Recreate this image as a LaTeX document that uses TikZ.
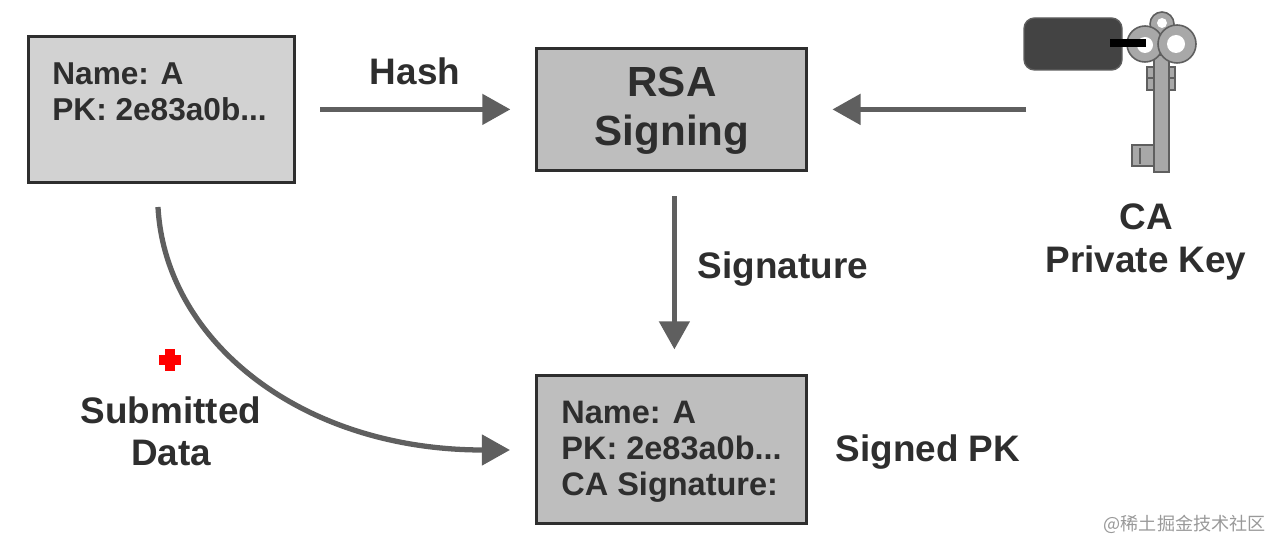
\documentclass[tikz,border=0pt]{standalone}
\usepackage{fontspec}
\setmainfont{Liberation Sans}
\newfontfamily\cjkfont{Noto Sans CJK SC}
\usepackage{xcolor}
\usetikzlibrary{arrows.meta}
\definecolor{boxlight}{HTML}{D2D2D2}
\definecolor{boxdark}{HTML}{BEBEBE}
\definecolor{flowgray}{HTML}{5F5F5F}
\definecolor{inkgray}{HTML}{2E2E2E}
\definecolor{keygray}{HTML}{A8A8A8}

\begin{document}
\begin{tikzpicture}[
    x=0.02cm,
    y=-0.02cm,
    box/.style={
        draw=inkgray,
        line width=1.6pt,
        inner sep=0pt,
        anchor=north west
    },
    flow/.style={
        draw=flowgray,
        line width=3pt,
        -{Triangle[length=16pt,width=17pt]}
    },
    gap/.style={
        shorten >=14pt,
        shorten <=14pt
    },
    label/.style={
        font=\bfseries\fontsize{21}{24}\selectfont,
        text=inkgray,
        align=center
    },
    entry/.style={
        font=\bfseries\fontsize{18}{20.5}\selectfont,
        text=inkgray,
        align=left,
        anchor=north west,
        inner sep=0pt
    },
    keypart/.style={
        fill=keygray,
        draw=flowgray,
        line width=0.9pt
    }
]
\useasboundingbox (0,0) rectangle (1271,540);

% boxes
\node[box, fill=boxlight, minimum width=266*0.02cm, minimum height=146*0.02cm] (request) at (27,35) {};
\node[box, fill=boxdark, minimum width=270*0.02cm, minimum height=122*0.02cm] (rsa) at (535,47) {};
\node[box, fill=boxdark, minimum width=270*0.02cm, minimum height=148*0.02cm] (signed) at (535,374) {};

\node[font=\bfseries\fontsize{24}{28}\selectfont, text=inkgray, align=center] (rsatext) at (672,111) {RSA\\Signing};
\node[entry] (requesttext) at (52,62) {Name: A\\PK: 2e83a0b...};
\node[entry, font=\bfseries\fontsize{18.5}{20.5}\selectfont] (signedtext) at (561,401) {Name: A\\PK: 2e83a0b...\\CA Signature:};

% key
\draw[keypart] (1132,145) rectangle (1158,166);
\draw[flowgray, line width=0.9pt] (1140,148) -- (1140,164);
\draw[keypart] (1147,67) rectangle (1175,90);
\draw[flowgray, line width=0.9pt] (1147,78) -- (1175,78);
\draw[keypart] (1154,55) rectangle (1169,172);
\draw[keypart] (1162,24) circle (12*0.02cm);
\draw[keypart] (1145,44) circle (18*0.02cm);
\draw[keypart] (1177,44) circle (19*0.02cm);
\fill[white] (1162,23) circle (5*0.02cm);
\fill[white] (1145,45) circle (8*0.02cm);
\fill[white] (1176,44) circle (9*0.02cm);
\fill[inkgray!90, draw=flowgray, rounded corners=6pt, line width=0.8pt] (1024,18) rectangle (1122,70);
\draw[black, line width=4pt] (1110,43) -- (1146,43);

\coordinate (keyend) at (1026,108);

% labels
\node[label] (hash) at (415,71) {Hash};
\node[label] (signature) at (783,269) {Signature};
\node[label] (keylabel) at (1146,242) {CA\\Private Key};
\node[label] (submitted) at (171,431) {Submitted\\Data};
\node[label] (signedpk) at (928,452) {Signed PK};

% plus sign
\fill[red] (165,349) rectangle (175,371);
\fill[red] (159,355) rectangle (181,365);

% arrows
\draw[flow, gap] (request.east |- rsa.west) -- (rsa.west);
\draw[flow, shorten >=14pt] (keyend |- rsa.east) -- (rsa.east);
\draw[flow, gap] ([xshift=3*0.02cm]rsa.south) -- ([xshift=3*0.02cm]rsa.south |- signed.north);
\draw[flow] (158,207) .. controls (165,340) and (300,450) .. (510,450);

% watermark
\node[anchor=east, inner sep=0pt, text=black!40, font=\cjkfont\fontsize{10.3}{12}\selectfont] (mark) at (1266,524) {@稀土掘金技术社区};
\end{tikzpicture}
\end{document}
